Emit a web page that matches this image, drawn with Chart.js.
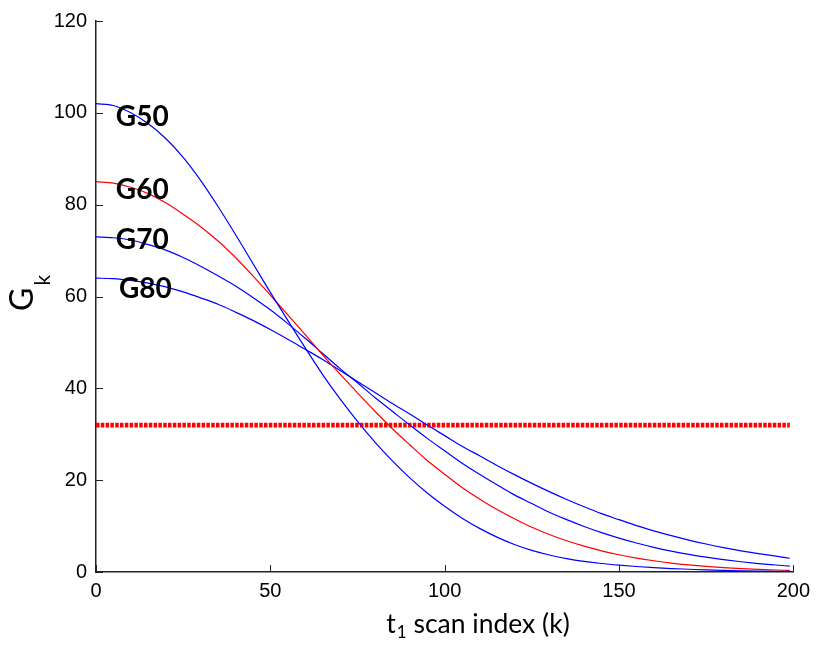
<!DOCTYPE html>
<html>
<head>
<meta charset="utf-8">
<script src="https://cdn.jsdelivr.net/npm/chart.js@4.4.1/dist/chart.umd.min.js"></script>
<style>
  html, body { margin: 0; padding: 0; background: #fff; }
  #wrap { width: 817px; height: 646px; }
</style>
</head>
<body>
<div id="wrap"><canvas id="gk-chart" width="817" height="646"></canvas></div>
<script>
// scan index k (sampled every 5 scans, last sample at 199)
const kValues = [0, 5, 10, 15, 20, 25, 30, 35, 40, 45, 50, 55, 60, 65, 70, 75, 80, 85, 90, 95,
  100, 105, 110, 115, 120, 125, 130, 135, 140, 145, 150, 155, 160, 165, 170, 175, 180, 185, 190, 195, 199];

const g50 = [102, 101.6, 100.0, 97.6, 94.4, 90.3, 85.3, 79.6, 73.5, 67.2, 60.9, 54.8, 48.8, 43.0, 37.7, 32.8,
  28.3, 24.2, 20.5, 17.2, 14.3, 11.7, 9.5, 7.6, 6.0, 4.7, 3.7, 2.9, 2.3, 1.85, 1.5, 1.2, 0.95, 0.75,
  0.6, 0.45, 0.35, 0.27, 0.2, 0.15, 0.12];
const g60 = [85, 84.7, 83.8, 82.4, 80.4, 77.9, 75.2, 72.1, 68.5, 64.5, 60.3, 56.0, 51.7, 47.3, 43.1, 39.0,
  35.0, 31.2, 27.7, 24.3, 21.3, 18.4, 15.9, 13.6, 11.6, 9.75, 8.17, 6.80, 5.62, 4.61, 3.76, 3.04, 2.45, 1.95,
  1.55, 1.22, 0.95, 0.74, 0.57, 0.44, 0.34];
const g70 = [73, 72.8, 72.3, 71.3, 70.1, 68.5, 66.6, 64.5, 62.3, 59.8, 57.1, 54.1, 50.9, 47.6, 44.3, 41.2,
  38.0, 35.0, 32.0, 29.1, 26.4, 23.7, 21.3, 19.0, 16.8, 14.9, 13.0, 11.4, 9.91, 8.57, 7.38, 6.31, 5.38, 4.56,
  3.84, 3.22, 2.69, 2.23, 1.84, 1.52, 1.27];
const g80 = [64, 63.9, 63.5, 62.9, 62.1, 61.0, 59.7, 58.3, 56.6, 54.8, 52.8, 50.7, 48.5, 46.3, 43.9, 41.5,
  39.1, 36.7, 34.4, 32.0, 29.7, 27.4, 25.3, 23.2, 21.2, 19.3, 17.5, 15.8, 14.2, 12.7, 11.4, 10.1, 8.96, 7.91,
  6.95, 6.09, 5.31, 4.62, 4.00, 3.45, 3.0];

// threshold line
const thresholdK = [0, 199];
const thresholdValue = [32, 32];

const curveNames = ['G50', 'G60', 'G70', 'G80'];
const xTicks = [0, 50, 100, 150, 200];
const yTicks = [0, 20, 40, 60, 80, 100, 120];

const toPoints = (xs, ys) => xs.map((x, i) => ({ x: x, y: ys[i] }));

const curveLine = (data, color) => ({
  data: data,
  borderColor: color,
  borderWidth: 1.2,
  pointRadius: 0,
  cubicInterpolationMode: 'monotone',
  fill: false
});

// inward ticks, curve names and axis titles with subscripts
const decorations = {
  id: 'decorations',
  afterDraw(chart) {
    const ctx = chart.ctx;
    const xs = chart.scales.x;
    const ys = chart.scales.y;
    const area = chart.chartArea;

    ctx.save();
    ctx.strokeStyle = '#222';
    ctx.lineWidth = 1;
    xTicks.forEach(v => {
      const px = Math.round(xs.getPixelForValue(v)) + 0.5;
      ctx.beginPath();
      ctx.moveTo(px, area.bottom);
      ctx.lineTo(px, area.bottom - 7);
      ctx.stroke();
    });
    yTicks.forEach(v => {
      const py = Math.round(ys.getPixelForValue(v)) + 0.5;
      ctx.beginPath();
      ctx.moveTo(area.left, py);
      ctx.lineTo(area.left + 7, py);
      ctx.stroke();
    });

    // curve names, anchored in data units (k, G)
    const anchors = [[5.7, 97.2], [5.7, 81.3], [5.7, 70.3], [6.6, 59.7]];
    ctx.fillStyle = '#000';
    ctx.font = 'bold 28px Lato';
    ctx.textAlign = 'left';
    ctx.textBaseline = 'alphabetic';
    curveNames.forEach((name, i) => {
      ctx.fillText(name, xs.getPixelForValue(anchors[i][0]), ys.getPixelForValue(anchors[i][1]));
    });

    // x title: t1 scan index (k)
    ctx.font = '26.5px Lato';
    const wT = ctx.measureText('t').width;
    const wRest = ctx.measureText(' scan index (k)').width;
    ctx.font = '17px Lato';
    const wSub = ctx.measureText('1').width;
    const total = wT + wSub + 1 + wRest;
    let tx = 478 - total / 2;
    const base = 633;
    ctx.font = '26.5px Lato';
    ctx.fillText('t', tx, base);
    tx += wT + 1;
    ctx.font = '17px Lato';
    ctx.fillText('1', tx, base + 5);
    tx += wSub;
    ctx.font = '26.5px Lato';
    ctx.fillText(' scan index (k)', tx, base);

    // y title: Gk, rotated
    ctx.translate(33, 311);
    ctx.rotate(-Math.PI / 2);
    ctx.font = '32px Lato';
    ctx.fillText('G', 0, 0);
    const wG = ctx.measureText('G').width;
    ctx.font = '21px Lato';
    ctx.fillText('k', wG + 2, 17);
    ctx.restore();
  }
};

const ctx = document.getElementById('gk-chart');

new Chart(ctx, {
  type: 'line',
  data: {
    datasets: [
      curveLine(toPoints(kValues, g50), '#0000ff'),
      curveLine(toPoints(kValues, g60), '#ff0000'),
      curveLine(toPoints(kValues, g70), '#0000ff'),
      curveLine(toPoints(kValues, g80), '#0000ff'),
      {
        data: toPoints(thresholdK, thresholdValue),
        borderColor: '#ff0000',
        borderWidth: 4.8,
        borderDash: [3.5, 1.3],
        pointRadius: 0,
        fill: false
      }
    ]
  },
  options: {
    responsive: false,
    animation: false,
    layout: { padding: { left: 0, right: 19, top: 17, bottom: 0 } },
    plugins: {
      legend: { display: false },
      tooltip: { enabled: false }
    },
    scales: {
      x: {
        type: 'linear',
        min: 0,
        max: 200,
        afterBuildTicks: scale => { scale.ticks = xTicks.map(v => ({ value: v })); },
        afterFit: scale => { scale.height = 74; },
        grid: { display: false, drawTicks: false },
        border: { display: true, color: '#222', width: 1.5 },
        ticks: {
          color: '#000',
          padding: 7,
          maxRotation: 0,
          font: { family: 'Liberation Sans', size: 20 }
        }
      },
      y: {
        min: 0,
        max: 120,
        afterBuildTicks: scale => { scale.ticks = yTicks.map(v => ({ value: v })); },
        afterFit: scale => { scale.width = 96; },
        grid: { display: false, drawTicks: false },
        border: { display: true, color: '#222', width: 1.5 },
        ticks: {
          color: '#000',
          padding: 9,
          font: { family: 'Liberation Sans', size: 20 }
        }
      }
    }
  },
  plugins: [decorations]
});
</script>
</body>
</html>
